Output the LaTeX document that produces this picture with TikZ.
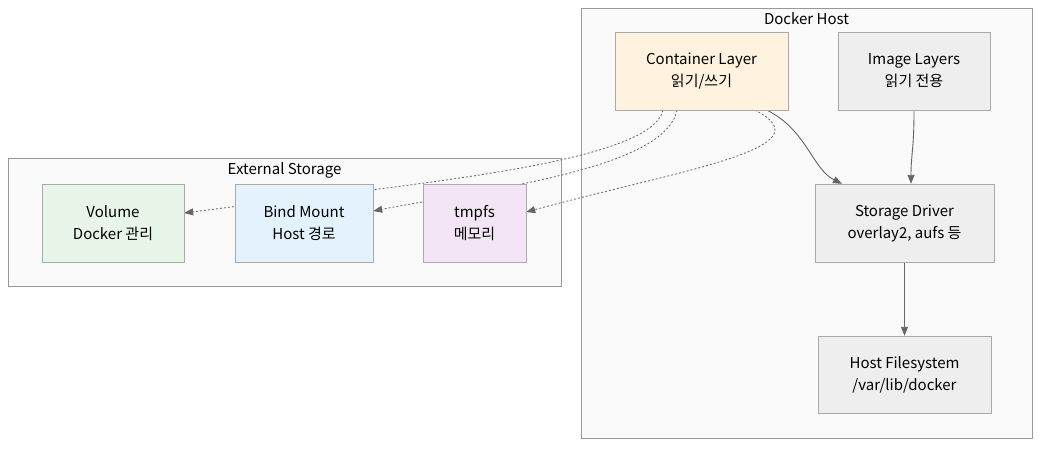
\documentclass[tikz,border=0pt]{standalone}
\usepackage{fontspec}
\setmainfont{Noto Sans CJK KR}
\usetikzlibrary{arrows.meta,calc}

\definecolor{linegray}{HTML}{666666}
\definecolor{boxline}{HTML}{AAAAAA}
\definecolor{clusterline}{HTML}{999999}
\definecolor{clusterfill}{HTML}{FAFAFA}
\definecolor{rwfill}{HTML}{FFF2DF}
\definecolor{greyfill}{HTML}{EEEEEE}
\definecolor{volfill}{HTML}{E8F5E9}
\definecolor{bindfill}{HTML}{E3F2FD}
\definecolor{tmpfill}{HTML}{F3E5F5}

\pgfdeclarelayer{back}
\pgfdeclarelayer{mid}
\pgfsetlayers{back,mid,main}

\begin{document}
\begin{tikzpicture}[x=1pt,y=-1pt,>={Triangle[length=9pt,width=7pt]},
                    font=\fontsize{15}{22}\selectfont]
  \tikzstyle{box}=[draw=boxline,minimum height=78pt,align=center,inner sep=0pt]
  \tikzstyle{cluster}=[draw=clusterline,fill=clusterfill,inner sep=0pt]
  \tikzstyle{flow}=[->,draw=linegray,line width=0.9pt]
  \tikzstyle{mount}=[->,draw=linegray,line width=0.8pt,dash pattern=on 2pt off 2pt]

  % clusters
  \begin{pgfonlayer}{back}
  \useasboundingbox[fill=white] (0,0) rectangle (1048,450);
  \node[cluster,minimum width=451pt,minimum height=430pt] (host) at (806.5,223) {};
  \node[anchor=north] (hostlabel) at ($(host.north)+(0,1.5)$) {Docker Host};
  \node[cluster,minimum width=553pt,minimum height=128pt] (ext) at (284.5,222) {};
  \node[anchor=north] (extlabel) at ($(ext.north)+(0,1.5)$) {External Storage};
  \end{pgfonlayer}

  % docker host
  \node[box,fill=rwfill,minimum width=173pt]   (container) at (701.5,71)  {Container Layer\\읽기/쓰기};
  \node[box,fill=greyfill,minimum width=152pt] (image)     at (914,71)    {Image Layers\\읽기 전용};
  \node[box,fill=greyfill,minimum width=179pt] (driver)    at (904.5,223) {Storage Driver\\overlay2, aufs 등};
  \node[box,fill=greyfill,minimum width=173pt,minimum height=77pt] (hostfs) at (904.5,374.5) {Host Filesystem\\/var/lib/docker};

  % external storage
  \node[box,fill=volfill,minimum width=142pt]  (volume) at (113,223) {Volume\\Docker 관리};
  \node[box,fill=bindfill,minimum width=138pt] (bind)   at (304,223) {Bind Mount\\Host 경로};
  \node[box,fill=tmpfill,minimum width=103pt]  (tmpfs)  at (474.5,223) {tmpfs\\메모리};

  \begin{pgfonlayer}{mid}
  \draw[flow] ($(container.south)+(65.5,0)$) .. controls +(40,20) and +(-30,-15) .. ($(driver.north)+(-62.5,0)$);
  \draw[flow] (image.south) .. controls +(0,40) and +(0,-30) .. ($(driver.north)+(6.5,0)$);
  \draw[flow] (driver) -- (hostfs);

  \draw[mount] ($(container.south)+(-38.5,0)$) .. controls +(-13,55) and +(215,-28) .. ($(volume.east)+(0,-10)$);
  \draw[mount] ($(container.south)+(-24.5,0)$) .. controls +(-12,60) and +(107,-21) .. ($(bind.east)+(0,-12)$);
  \draw[mount] ($(container.south)+(53.5,0)$) .. controls +(75,38) and +(154,-42) .. ($(tmpfs.east)+(0,-11)$);
  \end{pgfonlayer}

\end{tikzpicture}
\end{document}
